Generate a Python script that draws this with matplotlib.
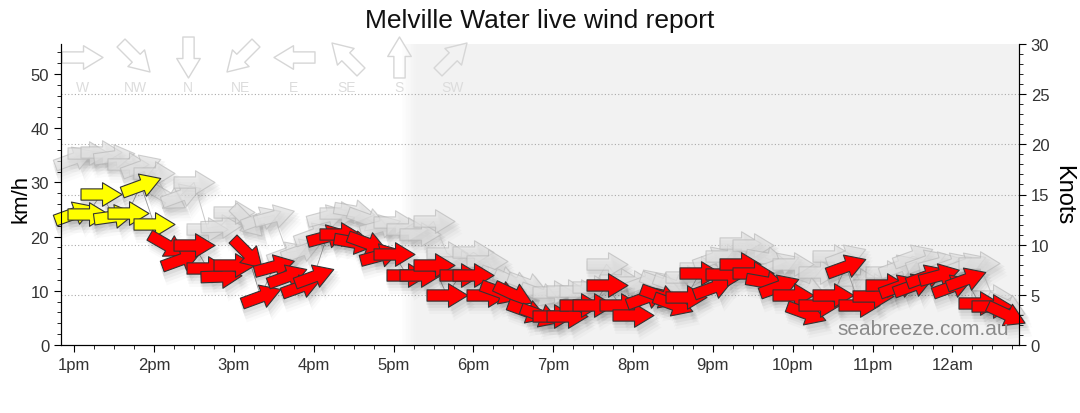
import numpy as np
import matplotlib
matplotlib.use("Agg")
import matplotlib.pyplot as plt
from matplotlib.path import Path
from matplotlib.markers import MarkerStyle
from matplotlib.transforms import Affine2D, offset_copy
from matplotlib.ticker import MultipleLocator

plt.rcParams['font.family'] = ['Liberation Sans', 'DejaVu Sans']

# ---- data (10 minute readings) ----
times = ["13:00", "13:10", "13:20", "13:30", "13:40", "13:50",
         "14:00", "14:10", "14:20", "14:30", "14:40", "14:50",
         "15:00", "15:10", "15:20", "15:30", "15:40", "15:50",
         "16:00", "16:10", "16:20", "16:30", "16:40", "16:50",
         "17:00", "17:10", "17:20", "17:30", "17:40", "17:50",
         "18:00", "18:10", "18:20", "18:30", "18:40", "18:50",
         "19:00", "19:10", "19:20", "19:30", "19:40", "19:50",
         "20:00", "20:10", "20:20", "20:30", "20:40", "20:50",
         "21:00", "21:10", "21:20", "21:30", "21:40", "21:50",
         "22:00", "22:10", "22:20", "22:30", "22:40", "22:50",
         "23:00", "23:10", "23:20", "23:30", "23:40", "23:50",
         "00:00", "00:10", "00:20", "00:30", "00:40"]

speed_kmh = [24.3, 24.1, 27.8, 23.8, 24.3, 29.5, 22.3, 18.4, 15.8, 18.4,
             14.2, 12.7, 14.7, 16.9, 9.0, 14.5, 12.7, 10.9, 12.7, 20.1,
             20.4, 19.0, 18.8, 16.6, 16.8, 12.9, 12.9, 14.7, 9.2, 12.9,
             12.9, 9.2, 9.8, 9.4, 6.3, 5.5, 5.3, 5.3, 7.4, 7.4,
             11.0, 7.4, 5.5, 8.8, 9.0, 7.6, 8.8, 13.3, 10.7, 13.1,
             14.9, 13.3, 11.6, 10.9, 9.2, 5.9, 7.4, 9.2, 14.5, 7.4,
             9.0, 11.0, 10.9, 11.0, 12.7, 12.9, 10.9, 12.2, 7.7, 7.2, 5.7]

gust_kmh = [34.6, 35.5, 35.7, 34.8, 33.5, 33.0, 31.7, 27.4, 27.6, 30.0,
            21.5, 22.0, 24.5, 22.8, 23.4, 23.9, 17.0, 17.5, 20.4, 23.9,
            24.4, 24.7, 23.2, 22.0, 22.7, 21.5, 20.5, 22.8, 17.0, 15.3,
            17.1, 15.5, 12.5, 11.6, 11.2, 9.5, 9.8, 10.0, 10.0, 10.7,
            14.9, 12.0, 11.6, 11.8, 11.4, 11.0, 12.5, 14.2, 16.0, 16.4,
            18.8, 18.5, 16.0, 15.0, 14.9, 10.5, 13.5, 16.4, 16.5, 12.0,
            11.0, 13.5, 14.5, 16.4, 15.5, 15.2, 14.9, 15.0, 15.1, 9.0, 7.4]

# direction the wind blows from, degrees
wind_dir = [250, 270, 270, 262, 270, 250, 270, 300, 250, 270,
            270, 268, 270, 315, 250, 255, 250, 250, 250, 255,
            270, 280, 290, 255, 270, 270, 270, 270, 270, 270,
            270, 270, 290, 295, 290, 290, 270, 270, 270, 270,
            270, 270, 270, 250, 290, 290, 270, 270, 250, 270,
            270, 270, 280, 250, 270, 290, 270, 270, 250, 270,
            270, 270, 250, 250, 250, 255, 250, 250, 270, 270, 295]

compass_labels = ["W", "NW", "N", "NE", "E", "SE", "S", "SW"]
compass_deg = [270, 315, 0, 45, 90, 135, 180, 225]
hour_labels = ["1pm", "2pm", "3pm", "4pm", "5pm", "6pm",
               "7pm", "8pm", "9pm", "10pm", "11pm", "12am"]

KMH_PER_KNOT = 1.852


def to_hours(s):
    h, m = s.split(":")
    h = int(h)
    if h < 12:
        h += 24
    return h + int(m) / 60


t = np.array([to_hours(s) for s in times])

verts = [(-20, -5.5), (1, -5.5), (1, -11.5), (20, 0), (1, 11.5), (1, 5.5), (-20, 5.5), (-20, -5.5)]
codes = [Path.MOVETO] + [Path.LINETO] * 6 + [Path.CLOSEPOLY]
ARROW = Path(verts, codes)
MS = 29.5  # ~41 px long arrow at 100 dpi


def arrow_marker(frm):
    return MarkerStyle(ARROW, transform=Affine2D().rotate_deg(270 - frm))


fig = plt.figure(figsize=(10.8, 4.14), dpi=100)
ax = fig.add_axes([61 / 1080, 1 - 346 / 414, 958 / 1080, 301 / 414])
ax.set_xlim(12 + 50 / 60, 24 + 50 / 60)
ax.set_ylim(0, 30 * KMH_PER_KNOT)

# night shading with a soft edge
ax.axvspan(17.28, 25, color='#f2f2f2', lw=0, zorder=0)
edge = np.linspace(17.1, 17.28, 10)
for i in range(len(edge) - 1):
    ax.axvspan(edge[i], edge[i + 1], color='#f2f2f2', alpha=(i + 1) / 10, lw=0, zorder=0)

# dotted grid in knots
for k in [5, 10, 15, 20, 25]:
    ax.axhline(k * KMH_PER_KNOT, color='#aaaaaa', ls=(0, (1, 2)), lw=0.8, zorder=1)

# compass legend
for i, (lab, d) in enumerate(zip(compass_labels, compass_deg)):
    x = 0.022 + i * 0.0552
    ax.plot([x], [0.957], transform=ax.transAxes, marker=arrow_marker(d), ms=MS,
            mfc='none', mec='#d6d6d6', mew=1, clip_on=False, zorder=2)
    ax.text(x, 0.858, lab, transform=ax.transAxes, ha='center', va='center',
            fontsize=10, color='#dcdcdc', zorder=2)


def shadow(x, y, d, z, strength=1.0):
    for dx, dy, a in [(2, -3, 0.05), (3, -6, 0.04), (4, -9, 0.03), (5, -12, 0.02)]:
        tr = offset_copy(ax.transData, fig=fig, x=dx, y=dy, units='dots')
        ax.plot([x], [y], transform=tr, marker=arrow_marker(d), ms=MS + 4,
                mfc='black', mec='none', alpha=a * strength, clip_on=False, zorder=z)


# gusts
ax.plot(t, gust_kmh, color='#c8c8c8', lw=0.7, zorder=3)
for x, g, d in zip(t, gust_kmh, wind_dir):
    shadow(x, g, d, 2.5, 0.8)
for x, g, d in zip(t, gust_kmh, wind_dir):
    ax.plot([x], [g], marker=arrow_marker(d), ms=MS,
            mfc=(0.88, 0.88, 0.88, 0.65), mec=(0.7, 0.7, 0.7, 0.6), mew=0.8,
            clip_on=False, zorder=4)

# sustained wind
ax.plot(t, speed_kmh, color='#999999', lw=0.6, zorder=4.5)
for x, v, d in zip(t, speed_kmh, wind_dir):
    shadow(x, v, d, 4.8)
for x, v, d in zip(t, speed_kmh, wind_dir):
    col = '#ffff00' if v >= 21.5 else '#ff0000'
    ax.plot([x], [v], marker=arrow_marker(d), ms=MS, mfc=col, mec='#333333',
            mew=0.8, clip_on=False, zorder=5)

# axes and ticks
ax.set_xticks(np.arange(13, 25))
ax.set_xticklabels(hour_labels)
ax.xaxis.set_minor_locator(MultipleLocator(0.25))
ax.yaxis.set_major_locator(MultipleLocator(10))
ax.yaxis.set_minor_locator(MultipleLocator(2))
ax.tick_params(which='major', direction='out', length=5, labelsize=12, labelcolor='#333333')
ax.tick_params(which='minor', direction='out', length=3)
ax.set_ylabel('km/h', fontsize=16)
ax.yaxis.set_label_coords(-0.031, 0.49)

ax2 = ax.twinx()
ax2.set_ylim(0, 30)
ax2.yaxis.set_major_locator(MultipleLocator(5))
ax2.yaxis.set_minor_locator(MultipleLocator(1))
ax2.tick_params(which='major', direction='out', length=5, labelsize=12, labelcolor='#333333')
ax2.tick_params(which='minor', direction='out', length=3)
ax2.set_ylabel('Knots', fontsize=17, rotation=-90, labelpad=18)

for a in (ax, ax2):
    a.spines['top'].set_visible(False)

ax.text(0.99, 0.055, 'seabreeze.com.au', transform=ax.transAxes, ha='right',
        va='center', fontsize=15, color='#8a8a8a', zorder=6)

fig.text(0.5, 0.95, 'Melville Water live wind report', ha='center', va='center',
         fontsize=19, color='#111111')

fig.savefig('out.png', dpi=100)
